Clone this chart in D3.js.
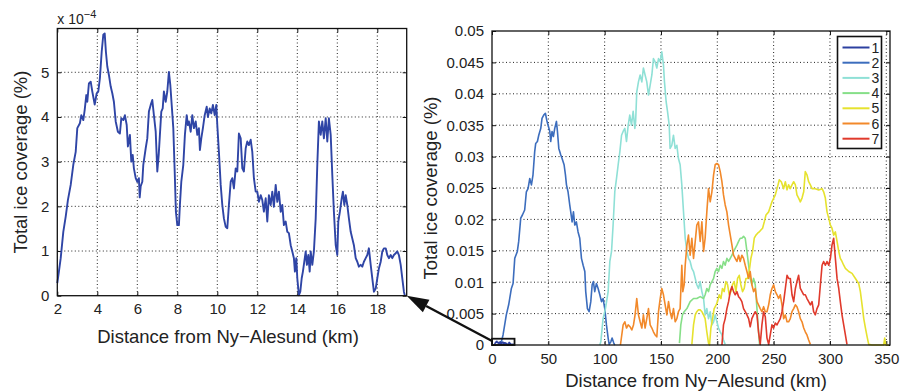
<!DOCTYPE html>
<html>
<head>
<meta charset="utf-8">
<script src="https://cdn.jsdelivr.net/npm/d3@7"></script>
<style>
  body { margin: 0; background: #fff; }
  text { font-family: "Liberation Sans", Arial, sans-serif; fill: #222; }
</style>
</head>
<body>
<script>
// ---- data ----
// series 1 (zoom panel), distance km / ice coverage in units of 1e-4 %
const series1 = [[2.0,0.28],[2.08,0.54],[2.17,0.84],[2.3,1.43],[2.42,1.77],[2.53,2.14],[2.67,2.48],[2.8,2.93],[2.92,3.22],[3.0,3.75],[3.13,3.86],[3.2,4.04],[3.3,3.93],[3.37,4.16],[3.45,4.49],[3.5,4.34],[3.58,4.75],[3.67,4.79],[3.75,4.57],[3.87,4.28],[3.97,4.53],[4.05,4.57],[4.13,4.87],[4.22,5.46],[4.3,5.84],[4.37,5.87],[4.43,5.46],[4.5,5.13],[4.58,4.94],[4.67,4.68],[4.75,4.53],[4.83,4.34],[4.92,3.9],[5.03,3.67],[5.13,3.63],[5.2,3.97],[5.3,3.93],[5.38,4.04],[5.47,3.82],[5.53,3.34],[5.63,3.6],[5.7,3.0],[5.77,3.15],[5.83,2.85],[5.92,2.63],[6.0,2.55],[6.08,2.63],[6.12,2.2],[6.17,2.45],[6.25,2.55],[6.3,2.93],[6.42,3.3],[6.5,3.52],[6.58,4.12],[6.67,4.27],[6.75,4.38],[6.83,4.04],[6.92,3.67],[7.0,2.78],[7.07,3.15],[7.13,3.6],[7.2,4.12],[7.27,4.19],[7.33,4.57],[7.42,4.34],[7.5,4.57],[7.58,5.01],[7.65,4.72],[7.72,4.27],[7.8,3.75],[7.87,2.78],[7.93,1.88],[8.0,1.58],[8.08,1.58],[8.13,2.03],[8.2,2.55],[8.3,2.93],[8.38,3.6],[8.47,4.04],[8.53,3.82],[8.58,3.9],[8.67,3.67],[8.75,4.04],[8.83,3.75],[8.92,3.9],[9.0,3.6],[9.08,3.75],[9.13,3.26],[9.2,3.52],[9.28,3.75],[9.37,4.04],[9.47,4.23],[9.53,4.0],[9.62,4.19],[9.7,4.08],[9.78,4.27],[9.87,4.04],[9.95,4.27],[10.0,3.82],[10.08,3.22],[10.17,2.48],[10.25,2.03],[10.33,1.73],[10.42,1.54],[10.5,1.51],[10.58,2.03],[10.67,2.55],[10.75,2.63],[10.83,2.4],[10.92,2.85],[11.0,2.78],[11.08,3.63],[11.17,3.52],[11.25,2.85],[11.33,2.78],[11.42,3.3],[11.5,3.45],[11.58,3.37],[11.67,3.49],[11.75,3.22],[11.83,2.63],[11.92,2.33],[12.0,2.33],[12.08,2.1],[12.17,2.25],[12.25,2.14],[12.33,1.88],[12.42,2.18],[12.5,1.66],[12.58,2.25],[12.67,2.03],[12.75,2.33],[12.83,1.99],[12.92,2.48],[13.0,2.1],[13.08,2.33],[13.17,1.88],[13.25,2.03],[13.33,1.58],[13.42,1.66],[13.5,1.43],[13.58,1.4],[13.67,1.13],[13.75,0.99],[13.83,0.84],[13.88,0.54],[13.95,0.84],[14.0,0.39],[14.08,0.01],[14.15,0.09],[14.22,0.39],[14.28,0.54],[14.35,0.76],[14.42,0.99],[14.48,0.69],[14.55,0.91],[14.62,0.54],[14.67,0.99],[14.75,0.69],[14.83,0.99],[14.92,1.73],[15.0,2.93],[15.08,3.9],[15.17,3.6],[15.25,3.9],[15.33,3.52],[15.42,3.97],[15.5,3.45],[15.58,3.97],[15.67,3.6],[15.75,2.7],[15.83,1.88],[15.92,1.13],[16.0,0.91],[16.05,1.66],[16.13,1.88],[16.22,2.18],[16.28,2.33],[16.35,2.03],[16.42,2.25],[16.5,2.03],[16.58,1.73],[16.67,1.43],[16.75,1.28],[16.83,1.13],[16.92,0.84],[17.0,0.76],[17.08,0.65],[17.17,0.69],[17.25,0.65],[17.33,0.76],[17.42,0.84],[17.5,0.91],[17.58,1.06],[17.67,0.69],[17.75,0.39],[17.83,0.09],[17.92,0.16],[18.0,0.39],[18.08,0.61],[18.17,0.76],[18.25,0.99],[18.33,1.06],[18.42,1.06],[18.5,0.91],[18.58,0.84],[18.67,0.91],[18.75,0.84],[18.83,0.91],[18.92,0.95],[19.0,0.99],[19.08,0.91],[19.17,0.69],[19.25,0.39],[19.33,0.09],[19.38,0.0]];

// series 2-7, distance km / ice coverage in units of 1e-3 %
const series2 = [[8.3,0.5],[9.8,1.6],[12.7,4.8],[14.8,6.4],[17.2,9.0],[18.7,9.8],[20.2,13.8],[22.5,14.9],[23.7,16.5],[25.5,20.2],[27.0,20.7],[29.0,21.5],[30.5,24.4],[32.0,24.9],[33.5,26.5],[35.0,25.5],[36.4,27.1],[37.9,30.8],[38.8,32.1],[40.3,32.4],[41.5,33.4],[43.3,34.5],[44.4,36.1],[45.9,36.6],[47.4,36.9],[48.6,35.8],[49.8,35.0],[51.3,34.0],[52.1,32.4],[53.3,34.0],[54.5,33.2],[55.7,34.5],[57.2,35.6],[58.1,34.0],[59.3,31.3],[61.0,30.3],[62.2,29.7],[64.0,28.7],[65.2,27.1],[66.1,25.5],[67.5,24.4],[69.0,22.3],[69.9,21.2],[71.1,19.6],[72.3,21.2],[73.5,19.1],[74.9,19.6],[76.4,18.0],[77.9,17.0],[79.4,13.8],[80.9,12.7],[82.4,11.7],[83.2,8.5],[84.7,5.8],[86.2,5.3],[87.7,6.9],[88.9,9.6],[90.0,10.1],[91.2,8.5],[92.7,9.8],[94.2,9.0],[95.7,8.0],[97.2,6.9],[98.6,7.4],[100.1,5.8],[101.6,3.2],[103.1,1.1],[104.0,0.1],[105.5,0.5],[106.6,1.1],[108.1,0.3],[109.0,0.0]];
const series3 = [[95.7,0.0],[96.6,0.5],[98.6,4.2],[100.7,5.8],[103.1,8.5],[104.6,13.3],[106.1,14.9],[107.5,19.1],[109.0,24.4],[110.5,26.5],[112.0,28.7],[113.5,30.8],[115.0,33.4],[116.4,34.0],[117.9,34.5],[119.4,32.4],[120.9,35.0],[122.3,36.6],[123.8,35.0],[125.3,37.2],[126.8,34.5],[127.5,35.6],[128.5,40.3],[130.0,41.9],[131.5,43.0],[133.0,41.9],[134.4,44.1],[135.9,43.0],[137.4,41.9],[138.9,39.8],[140.4,41.4],[141.9,43.0],[143.3,45.6],[144.8,45.1],[146.3,44.1],[147.8,45.6],[149.3,45.1],[150.7,46.7],[152.2,44.6],[153.1,41.9],[154.6,38.7],[155.8,37.2],[157.3,35.0],[158.1,31.3],[159.6,31.8],[161.1,33.4],[162.6,31.3],[164.1,31.8],[165.5,29.7],[167.0,28.7],[168.5,25.5],[170.0,21.2],[171.5,17.0],[173.0,14.9],[174.4,13.8],[175.9,13.3],[177.4,12.2],[178.9,11.7],[180.4,10.6],[181.8,9.6],[183.3,9.0],[184.8,10.1],[186.3,8.5],[187.8,7.4],[189.2,4.8],[190.7,5.8],[192.2,4.2],[193.7,5.3],[195.2,3.2],[196.7,3.7],[198.1,4.8],[199.6,3.7],[201.1,2.7],[202.6,2.1],[204.1,1.6],[205.5,0.8],[207.0,0.1]];
const series4 = [[166.4,0.3],[167.6,3.2],[169.1,4.8],[170.6,5.3],[173.0,5.8],[175.9,6.9],[178.9,7.4],[181.8,7.4],[184.8,7.7],[187.8,7.4],[189.2,8.0],[190.7,9.0],[192.2,8.5],[193.7,9.6],[195.2,10.1],[196.7,10.6],[198.1,11.7],[199.6,12.2],[201.1,11.7],[202.6,12.7],[204.1,12.2],[205.5,13.3],[207.0,12.7],[208.5,13.8],[210.0,13.3],[211.5,13.8],[213.0,14.3],[214.4,14.9],[215.9,15.4],[217.4,15.9],[218.9,16.5],[220.3,17.0],[221.8,17.0],[223.3,17.3],[224.8,17.0],[226.3,14.9],[227.8,12.7],[229.2,10.6],[230.7,9.6],[232.2,10.6],[233.7,9.6],[235.2,5.8],[236.6,2.1],[237.5,0.1]];
const series5 = [[177.4,0.1],[178.9,3.2],[180.4,4.8],[181.8,5.3],[183.3,5.6],[184.8,5.6],[186.3,5.3],[187.8,4.8],[189.2,4.2],[190.7,2.1],[192.2,0.3],[193.1,0.0],[194.3,2.7],[195.8,4.2],[197.2,5.8],[199.0,6.4],[200.2,6.9],[201.7,8.0],[203.2,7.4],[204.6,9.0],[206.1,8.5],[207.6,10.1],[209.1,9.6],[210.6,8.0],[212.1,8.5],[213.5,9.6],[215.0,10.1],[216.5,8.5],[218.0,10.6],[219.5,11.1],[220.9,9.6],[222.4,8.5],[223.9,9.0],[225.4,10.6],[226.9,10.6],[228.3,11.7],[229.8,13.8],[231.3,14.9],[232.8,17.0],[234.3,17.5],[235.8,17.8],[237.2,18.0],[238.7,18.3],[240.2,18.6],[241.7,19.6],[243.2,20.7],[245.6,21.2],[248.5,22.8],[251.5,23.9],[253.9,25.5],[255.0,26.3],[256.8,26.0],[258.9,24.9],[260.4,26.0],[261.9,24.7],[263.3,25.5],[264.8,24.9],[266.3,25.5],[267.8,26.0],[269.3,25.5],[270.7,23.9],[272.2,23.4],[273.7,22.8],[275.2,23.4],[276.7,24.4],[278.1,27.6],[279.6,27.1],[281.1,26.0],[282.6,25.5],[284.1,24.9],[287.0,24.9],[290.0,24.7],[293.0,24.9],[294.4,24.4],[295.9,23.4],[297.4,21.2],[298.9,20.2],[300.4,19.1],[301.8,18.6],[303.3,17.5],[304.8,18.0],[306.3,16.5],[307.8,14.9],[309.2,13.8],[310.7,13.3],[312.2,12.7],[313.7,12.2],[316.7,11.7],[319.6,11.4],[322.6,10.6],[325.5,9.8],[327.0,8.5],[328.5,6.4],[330.0,4.2],[331.5,2.7],[333.0,1.3],[334.4,0.1],[337.4,0.0],[343.3,0.0],[347.7,0.0],[348.6,1.1],[349.5,0.0],[352.2,0.0]];
const series6 = [[114.0,0.0],[116.4,3.2],[117.9,3.7],[119.4,2.7],[120.9,3.2],[122.6,2.9],[124.1,2.4],[125.6,3.2],[127.0,4.8],[128.5,7.4],[130.0,4.8],[131.5,3.7],[133.0,2.7],[134.4,4.8],[135.9,2.7],[137.4,4.2],[138.9,5.8],[140.4,3.2],[141.9,2.7],[143.3,2.1],[144.8,1.6],[146.3,1.3],[147.8,5.3],[149.3,7.4],[150.7,9.0],[152.2,8.0],[153.7,6.4],[155.2,4.8],[156.7,6.9],[158.1,5.3],[159.6,4.2],[161.1,5.8],[162.6,3.7],[164.1,4.2],[165.5,5.3],[167.0,5.8],[168.5,12.7],[169.4,8.5],[170.6,9.6],[171.5,12.7],[173.0,15.9],[174.4,17.5],[175.9,14.3],[177.4,17.0],[178.9,13.8],[180.4,16.5],[181.8,19.1],[183.3,19.6],[184.8,16.5],[186.3,19.6],[187.8,14.9],[189.2,17.0],[190.7,21.2],[192.2,24.9],[193.7,22.8],[195.2,24.4],[196.7,27.1],[198.1,28.7],[199.6,28.9],[201.1,28.7],[202.6,27.6],[204.1,26.0],[205.5,23.9],[207.0,22.3],[208.5,21.2],[210.0,19.1],[211.5,17.5],[213.0,15.9],[214.4,14.3],[215.9,13.8],[217.4,13.3],[218.9,14.3],[220.3,13.3],[221.8,14.3],[223.3,13.8],[224.8,12.7],[226.3,11.7],[227.8,10.6],[229.2,11.7],[230.7,9.6],[232.2,8.5],[233.7,9.0],[235.2,6.9],[236.6,6.4],[238.1,5.8],[239.6,5.3],[241.1,6.1],[242.6,5.3],[244.1,5.3],[245.6,6.4],[247.0,8.0],[248.5,9.0],[250.0,9.6],[251.5,8.5],[253.0,8.0],[254.4,7.4],[255.9,8.0],[257.4,6.4],[258.9,4.2],[260.4,4.8],[261.9,3.7],[263.3,3.7],[264.8,4.2],[266.3,5.3],[267.8,5.8],[269.3,6.4],[270.7,6.1],[272.2,5.3],[273.7,4.2],[275.2,3.7],[276.7,2.7],[278.1,2.1],[279.6,1.6],[281.1,0.8],[282.6,0.1]];
const series7 = [[204.1,0.0],[205.5,3.2],[207.0,4.2],[208.5,5.8],[210.0,6.9],[211.5,8.5],[213.0,9.3],[214.4,8.5],[215.9,8.0],[217.4,8.5],[218.9,7.7],[220.3,7.4],[221.8,6.9],[223.3,5.8],[224.8,5.3],[226.3,4.8],[227.8,4.2],[229.2,2.9],[230.7,4.2],[232.2,4.8],[233.7,5.3],[235.2,4.8],[236.6,2.1],[238.1,0.1],[239.6,3.2],[241.1,5.3],[242.6,4.5],[244.1,1.1],[245.6,0.1],[247.0,1.6],[248.5,3.2],[250.0,2.7],[251.5,3.5],[253.0,3.2],[254.4,3.7],[255.9,4.2],[257.4,5.3],[258.9,6.9],[260.4,9.0],[261.9,11.1],[263.3,10.6],[264.8,10.6],[266.3,8.0],[267.8,6.9],[269.3,9.0],[270.7,10.1],[272.2,11.1],[273.7,9.0],[275.2,8.5],[276.7,8.0],[278.1,8.0],[279.6,7.4],[281.1,6.9],[282.6,6.4],[284.1,6.9],[285.5,5.3],[287.0,4.8],[288.5,5.8],[290.0,6.4],[291.5,9.6],[293.0,12.7],[294.4,13.3],[295.9,12.7],[297.4,13.3],[298.9,12.7],[300.4,13.8],[301.8,15.9],[303.3,17.0],[304.8,13.8],[306.3,10.6],[307.8,9.0],[309.2,6.9],[310.7,4.8],[312.2,3.2],[313.7,1.6],[315.1,0.1]];

const seriesNames = ["1", "2", "3", "4", "5", "6", "7"];
const seriesColors = ["#2c40a0", "#3c6dbd", "#8fe0d6", "#86df88", "#e6e22e", "#f2892a", "#e03a2c"];

const leftXTicks = [2, 4, 6, 8, 10, 12, 14, 16, 18];
const leftYTicks = [0, 1, 2, 3, 4, 5];
const rightXTicks = [0, 50, 100, 150, 200, 250, 300, 350];
const rightYTicks = [0, 0.005, 0.01, 0.015, 0.02, 0.025, 0.03, 0.035, 0.04, 0.045, 0.05];

const xLabel = "Distance from Ny\u2212Alesund (km)";
const yLabel = "Total ice coverage (%)";

// ---- layout ----
const svg = d3.select("body").append("svg")
    .attr("width", 903)
    .attr("height", 392);

const left = { x0: 57.3, x1: 406.7, y0: 28.5, y1: 295.7 };
const right = { x0: 492, x1: 890, y0: 31, y1: 345 };

const xL = d3.scaleLinear().domain([2, 19.47]).range([left.x0, left.x1]);
const yL = d3.scaleLinear().domain([0, 5.98]).range([left.y1, left.y0]);
const xR = d3.scaleLinear().domain([0, 353.3]).range([right.x0, right.x1]);
const yR = d3.scaleLinear().domain([0, 0.05]).range([right.y1, right.y0]);

function drawFrame(box, xs, ys, xt, yt, yFmt) {
    const g = svg.append("g");
    // dotted grid
    g.selectAll(".gx").data(xt.filter(d => xs(d) > box.x0 + 1 && xs(d) < box.x1 - 1)).enter()
        .append("line")
        .attr("x1", d => xs(d)).attr("x2", d => xs(d))
        .attr("y1", box.y0).attr("y2", box.y1)
        .attr("stroke", "#222").attr("stroke-width", 1).attr("stroke-dasharray", "1,2.5");
    g.selectAll(".gy").data(yt.filter(d => ys(d) > box.y0 + 1 && ys(d) < box.y1 - 1)).enter()
        .append("line")
        .attr("y1", d => ys(d)).attr("y2", d => ys(d))
        .attr("x1", box.x0).attr("x2", box.x1)
        .attr("stroke", "#222").attr("stroke-width", 1).attr("stroke-dasharray", "1,2.5");

    // axes with inward ticks
    const bottom = d3.axisBottom(xs).tickValues(xt).tickSize(-4).tickPadding(8);
    const leftAx = d3.axisLeft(ys).tickValues(yt).tickSize(-4).tickPadding(8).tickFormat(yFmt);
    const gb = svg.append("g").attr("transform", `translate(0,${box.y1})`).call(bottom);
    const gl = svg.append("g").attr("transform", `translate(${box.x0},0)`).call(leftAx);
    const gt = svg.append("g").attr("transform", `translate(0,${box.y0})`)
        .call(d3.axisTop(xs).tickValues(xt).tickSize(-4).tickFormat(""));
    const gr = svg.append("g").attr("transform", `translate(${box.x1},0)`)
        .call(d3.axisRight(ys).tickValues(yt).tickSize(-4).tickFormat(""));
    [gb, gl, gt, gr].forEach(a => {
        a.select(".domain").remove();
        a.selectAll("line").attr("stroke", "#111");
        a.selectAll("text").style("font-size", "15px").attr("fill", "#222")
            .style("font-family", "'Liberation Sans', Arial, sans-serif");
    });
    return g;
}

function drawBorder(box) {
    svg.append("rect")
        .attr("x", box.x0).attr("y", box.y0)
        .attr("width", box.x1 - box.x0).attr("height", box.y1 - box.y0)
        .attr("fill", "none").attr("stroke", "#111").attr("stroke-width", 1.3);
}

// ---- left panel: zoom of series 1 ----
drawFrame(left, xL, yL, leftXTicks, leftYTicks, d3.format("d"));

const lineL = d3.line().x(d => xL(d[0])).y(d => yL(d[1]));
svg.append("path")
    .datum(series1)
    .attr("d", lineL)
    .attr("fill", "none")
    .attr("stroke", "#2f45a6")
    .attr("stroke-width", 1.9)
    .attr("stroke-linejoin", "round");
drawBorder(left);

// exponent label
const expo = svg.append("text")
    .attr("x", left.x0)
    .attr("y", left.y0 - 5)
    .style("font-size", "14px");
expo.append("tspan").text("x 10");
expo.append("tspan").attr("dy", -6).style("font-size", "11px").text("\u22124");

svg.append("text")
    .attr("x", (left.x0 + left.x1) / 2 - 4)
    .attr("y", 343)
    .attr("text-anchor", "middle")
    .style("font-size", "18.5px")
    .text(xLabel);
svg.append("text")
    .attr("transform", `translate(27,${(left.y0 + left.y1) / 2}) rotate(-90)`)
    .attr("text-anchor", "middle")
    .style("font-size", "18.5px")
    .text(yLabel);

// ---- right panel: all series ----
drawFrame(right, xR, yR, rightXTicks, rightYTicks, d => d === 0 ? "0" : d3.format("")(+d.toFixed(3)));

const allSeries = [
    series1.map(d => [d[0], d[1] * 1e-4]),
    series2.map(d => [d[0], d[1] * 1e-3]),
    series3.map(d => [d[0], d[1] * 1e-3]),
    series4.map(d => [d[0], d[1] * 1e-3]),
    series5.map(d => [d[0], d[1] * 1e-3]),
    series6.map(d => [d[0], d[1] * 1e-3]),
    series7.map(d => [d[0], d[1] * 1e-3])
];

const lineR = d3.line().x(d => xR(d[0])).y(d => yR(d[1]));
svg.append("g").selectAll("path")
    .data(allSeries)
    .enter().append("path")
    .attr("d", lineR)
    .attr("fill", "none")
    .attr("stroke", (d, i) => seriesColors[i])
    .attr("stroke-width", 1.6)
    .attr("stroke-linejoin", "round");
drawBorder(right);

// zoom box around series 1
svg.append("rect")
    .attr("x", xR(0)).attr("y", yR(0.001))
    .attr("width", xR(20) - xR(0)).attr("height", yR(0) - yR(0.001))
    .attr("fill", "none").attr("stroke", "#111").attr("stroke-width", 1.8);

// arrow from box to the zoom panel corner
const tail = [xR(0.5), yR(0.0006)];
const tip = [xL(19.47), yL(0)];
const ang = Math.atan2(tail[1] - tip[1], tail[0] - tip[0]);
const headLen = 22, headW = 7;
const base = [tip[0] + headLen * Math.cos(ang), tip[1] + headLen * Math.sin(ang)];
svg.append("line")
    .attr("x1", tail[0]).attr("y1", tail[1])
    .attr("x2", base[0]).attr("y2", base[1])
    .attr("stroke", "#111").attr("stroke-width", 2.4);
svg.append("path")
    .attr("d", d3.line()([
        tip,
        [base[0] + headW * Math.sin(ang), base[1] - headW * Math.cos(ang)],
        [base[0] - headW * Math.sin(ang), base[1] + headW * Math.cos(ang)]
    ]) + "Z")
    .attr("fill", "#111");

svg.append("text")
    .attr("x", (right.x0 + right.x1) / 2 + 5)
    .attr("y", 387)
    .attr("text-anchor", "middle")
    .style("font-size", "18.5px")
    .text(xLabel);
svg.append("text")
    .attr("transform", `translate(437,${(right.y0 + right.y1) / 2}) rotate(-90)`)
    .attr("text-anchor", "middle")
    .style("font-size", "18.5px")
    .text(yLabel);

// legend
const legend = svg.append("g").attr("transform", "translate(837.5,36.5)");
legend.append("rect")
    .attr("width", 44).attr("height", 112)
    .attr("fill", "#fff").attr("stroke", "#111").attr("stroke-width", 1.6);
const items = legend.selectAll(".item")
    .data(seriesNames)
    .enter().append("g")
    .attr("transform", (d, i) => `translate(0,${11 + i * 15.2})`);
items.append("line")
    .attr("x1", 5).attr("x2", 32)
    .attr("stroke", (d, i) => seriesColors[i])
    .attr("stroke-width", 2);
items.append("text")
    .attr("x", 34).attr("y", 5)
    .style("font-size", "14px")
    .text(d => d);
</script>
</body>
</html>
